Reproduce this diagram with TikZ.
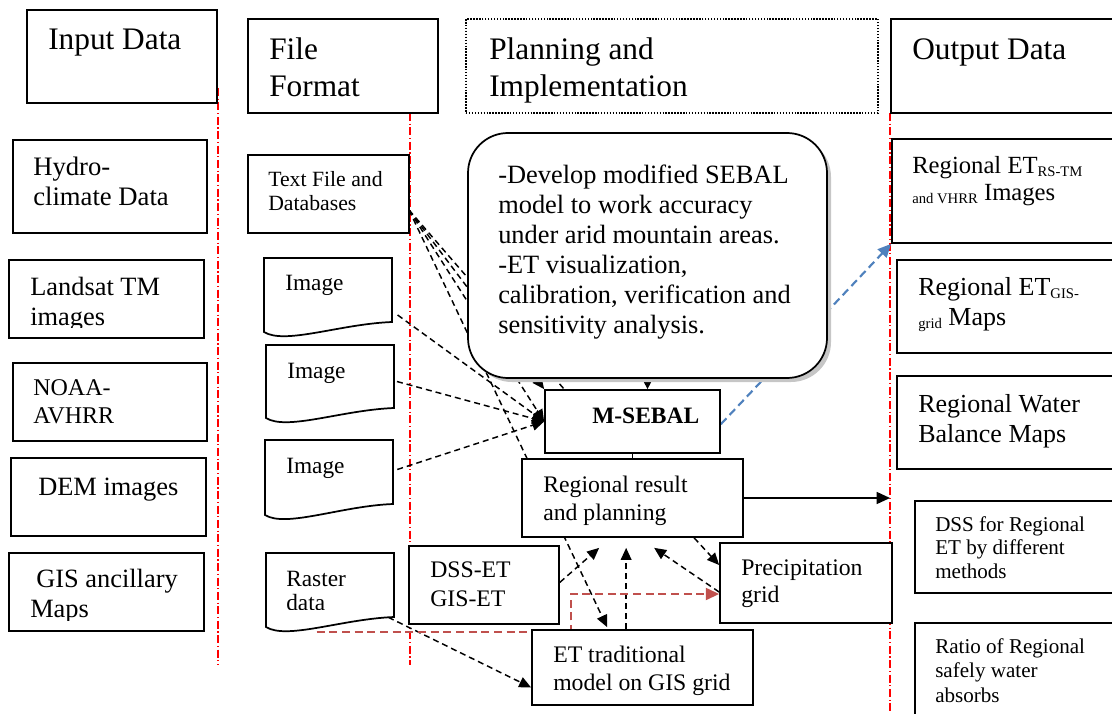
\documentclass[tikz,border=0pt]{standalone}
\usepackage{fontspec}
\setmainfont{Liberation Serif}
\usetikzlibrary{arrows.meta,fit,calc}
\pgfdeclarelayer{bg}
\pgfsetlayers{bg,main}

% small lowered text used for the ET subscripts
\newcommand\lowtxt[1]{\raisebox{-2.6pt}{\fontsize{11}{11}\selectfont #1}}
% left-aligned lines whose baseline is the first line
\newcommand\ml[1]{\begin{tabular}[t]{@{}l@{}}#1\end{tabular}}

% document symbol with a wavy lower edge: name, x1, top, x2, right bottom, left bottom
\newcommand\docshape[6]{%
  \node[inner sep=0pt,fit={(#2,#3)(#4,#6)}] (#1) {};
  \draw[line width=1.3pt,fill=white] (#2,#3) -- (#4,#3) -- (#4,#5)
    .. controls ({#4-52},{#5+2}) and ({#2+21},{#6+13}) .. (#2,#6) -- cycle;}

\begin{document}
\begin{tikzpicture}[x=0.75pt,y=-0.75pt,
  box/.style={draw=black,line width=1.3pt,fill=white,inner sep=0pt},
  dotbox/.style={draw=black,line width=1.1pt,fill=white,inner sep=0pt,dash pattern=on 1.1pt off 1.1pt},
  txt/.style={anchor=base west,inner sep=0pt},
  hdr/.style={txt,font={\fontsize{23.5}{27.75}\selectfont}},
  big/.style={txt,font={\fontsize{19.8}{22.5}\selectfont}},
  mid/.style={txt,font={\fontsize{17.8}{21}\selectfont}},
  sml/.style={txt,font={\fontsize{15.8}{17.8}\selectfont}},
  dsh/.style={draw=black,line width=1.1pt,dash pattern=on 4.5pt off 3pt},
  tip/.style={-{Triangle[length=9pt,width=8pt]}},
  sep/.style={draw=red,line width=1.1pt,dash pattern=on 6pt off 2pt on 0.8pt off 2pt},
  reddsh/.style={draw={rgb,255:red,192;green,80;blue,77},line width=1.6pt,dash pattern=on 6pt off 3.5pt,
    -{Triangle[length=10pt,width=9pt]}},
  bluedsh/.style={draw={rgb,255:red,79;green,129;blue,189},line width=1.6pt,dash pattern=on 6pt off 3.5pt,
    -{Triangle[length=10pt,width=9pt]}},
]
\clip (0,0) rectangle (1112,713);

% ---- column headers
\node[box,fit={(27,10)(217,103)}] (inH) {};
\node[hdr] at (48,50) {Input Data};
\node[box,fit={(248,19)(438,113)}] (ffH) {};
\node[hdr] at (269,60) {\ml{File\\Format}};
\node[dotbox,fit={(466,19)(878,113)}] (plH) {};
\node[hdr] at (489,60) {\ml{Planning and\\Implementation}};
\node[box,fit={(891,19)(1130,113)}] (outH) {};
\node[hdr] at (912,60) {Output Data};

% ---- input data
\node[box,fit={(13,140)(207,233)}] (hyd) {};
\node[big,font={\fontsize{20}{22.5}\selectfont}] at (33,175) {\ml{Hydro-\\climate Data}};
\node[box,fit={(9,260)(204,338)}] (lan) {};
\begin{scope}
  \clip (9,260) rectangle (204,327);
  \node[big] at (30,295) {\ml{Landsat TM\\images}};
\end{scope}
\node[box,fit={(13,363)(207,441)}] (noa) {};
\node[txt,font={\fontsize{18}{21}\selectfont}] at (33,395) {\ml{NOAA-\\AVHRR}};
\node[box,fit={(11,458)(206,536)}] (dem) {};
\node[big] at (38,495) {DEM images};
\node[box,fit={(9,553)(204,631)}] (gis) {};
\begin{scope}
  \clip (9,553) rectangle (204,620);
  \node[big] at (30,587) {\ml{\hspace*{4.5pt}GIS ancillary\\Maps}};
\end{scope}

% ---- file formats
\node[box,fit={(248,155)(409,233)}] (tf) {};
\node[txt,font={\fontsize{16.3}{18}\selectfont}] at (268,186) {\ml{Text File and\\Databases}};
\docshape{img1}{264}{258}{392}{322}{332}
\node[txt,font={\fontsize{17.5}{18}\selectfont}] at (285,290) {Image};
\docshape{img2}{266}{345}{394}{408}{418}
\node[txt,font={\fontsize{17.5}{18}\selectfont}] at (287,378) {Image};
\docshape{img3}{265}{440}{393}{504}{515}
\node[txt,font={\fontsize{17.5}{18}\selectfont}] at (286,473) {Image};
\docshape{rast}{266}{553}{394}{617}{627}
\begin{scope}
  \clip (266,553) rectangle (394,609);
  \node[txt,font={\fontsize{17.5}{18}\selectfont}] at (286,586) {\ml{Raster\\data}};
\end{scope}

% ---- planning and implementation
\fill[gray!45,rounded corners=30pt] (472,137) rectangle (831,382);
\node[box,rounded corners=30pt,fit={(468,133)(827,378)}] (rb) {};
\node[txt,font={\fontsize{19.8}{22.5}\selectfont}] at (498,183)
  {\ml{-Develop modified SEBAL\\model to work accuracy\\under arid mountain areas.\\-ET visualization,\\calibration, verification and\\sensitivity analysis.}};
\node[box,fit={(545,390)(720,453)}] (ms) {};
\node[txt,font={\fontsize{17.6}{20}\selectfont\bfseries}] at (592,423) {M-SEBAL};
\node[box,fit={(522,459)(743,537)}] (rr) {};
\node[mid] at (543,492) {\ml{Regional result\\and planning}};
\node[box,fit={(409,546)(559,624)}] (dss) {};
\node[mid,font={\fontsize{17.8}{21.75}\selectfont}] at (430,577) {\ml{DSS-ET\\GIS-ET}};
\node[box,fit={(532,630)(753,705)}] (et) {};
\node[mid] at (553,662) {\ml{ET traditional\\model on GIS grid}};
\node[box,fit={(720,543)(892,623)}] (pg) {};
\node[mid,font={\fontsize{17.8}{20.25}\selectfont}] at (741,575) {\ml{Precipitation\\grid}};

% ---- output data
\node[box,fit={(892,139)(1130,243)}] (rs) {};
\node[txt,font={\fontsize{18.5}{20.25}\selectfont}] at (912,173) {\ml{Regional ET\lowtxt{RS-TM}\\\lowtxt{and VHRR} Images}};
\node[box,fit={(897,260)(1130,353)}] (gg) {};
\node[txt,font={\fontsize{19.5}{22.5}\selectfont}] at (918,295) {\ml{Regional ET\lowtxt{GIS-}\\\lowtxt{grid} Maps}};
\node[box,fit={(897,376)(1130,469)}] (wb) {};
\node[txt,font={\fontsize{19.5}{22.5}\selectfont}] at (918,412) {\ml{Regional Water\\Balance Maps}};
\node[box,fit={(915,501)(1130,593)}] (dfr) {};
\node[sml] at (935,531) {\ml{DSS for Regional\\ET by different\\methods}};
\node[box,fit={(915,623)(1130,730)}] (rat) {};
\node[sml,font={\fontsize{15.8}{18.4}\selectfont}] at (935,653) {\ml{Ratio of Regional\\safely water\\absorbs}};

% ---- separators and connectors (behind the boxes)
\coordinate (s1a) at (218,88);  \coordinate (s1b) at (218,665);
\coordinate (s2a) at (410,113); \coordinate (s2b) at (410,665);
\coordinate (s3a) at (890,113); \coordinate (s3b) at (890,713);
\coordinate (tfo) at (409,210);
\begin{pgfonlayer}{bg}
  \draw[sep] (s1a) -- (s1b);
  \draw[sep] (s2a) -- (s2b);
  \draw[sep] (s3a) -- (s3b);
  % text files and databases
  \draw[dsh,tip] (tfo) -- (ms.north west);
  \draw[dsh] (tfo) -- ([xshift=15pt]ms.north west);
  \draw[dsh,tip] (tfo) -- (ms.west);
  \draw[dsh,tip] (tfo) -- ([xshift=57pt,yshift=1.5pt]et.north west);
  % images
  \draw[dsh,tip] ([xshift=4pt,yshift=-15pt]img1.east) -- (ms.west);
  \draw[dsh,tip] ([xshift=2pt]img2.east) -- (ms.west);
  \draw[dsh,tip] ([xshift=3pt,yshift=6pt]img3.east) -- (ms.west);
  \draw[dsh,tip] ([xshift=-4.5pt,yshift=7.5pt]rast.south east) -- ([yshift=-15pt]et.west);
  % feedback into the regional result
  \draw[dsh,tip] ([yshift=2pt]dss.east) -- ([xshift=58.5pt,yshift=-7.5pt]rr.south west);
  \draw[dsh,tip] ([xshift=71.25pt]et.north west) -- ([xshift=78.75pt,yshift=-7.5pt]rr.south west);
  \draw[dsh,tip] ([yshift=-6.75pt]pg.west) -- ([xshift=99.75pt,yshift=-7.5pt]rr.south west);
  \draw[dsh,tip] ([xshift=129.75pt]rr.south west) -- ([yshift=13.5pt]pg.west);
  % coloured links
  \draw[reddsh] ([xshift=38.25pt,yshift=-3.75pt]rast.south west) -- ++(254,0) |- ([yshift=-8.25pt]pg.west);
  \draw[bluedsh] ([yshift=-2pt]ms.east) -- (rs.south west);
  % solid links
  \draw[line width=1.1pt,-{Triangle[length=10pt,width=9pt]}] (rr.east) -- (rr.east -| s3a);
  \draw[line width=1.1pt,-{Triangle[length=7pt,width=7pt]}] (rb.south) -- (rb.south |- ms.north);
  \draw[line width=0.8pt] (ms.south) -- (rr.north);
\end{pgfonlayer}
\end{tikzpicture}
\end{document}
